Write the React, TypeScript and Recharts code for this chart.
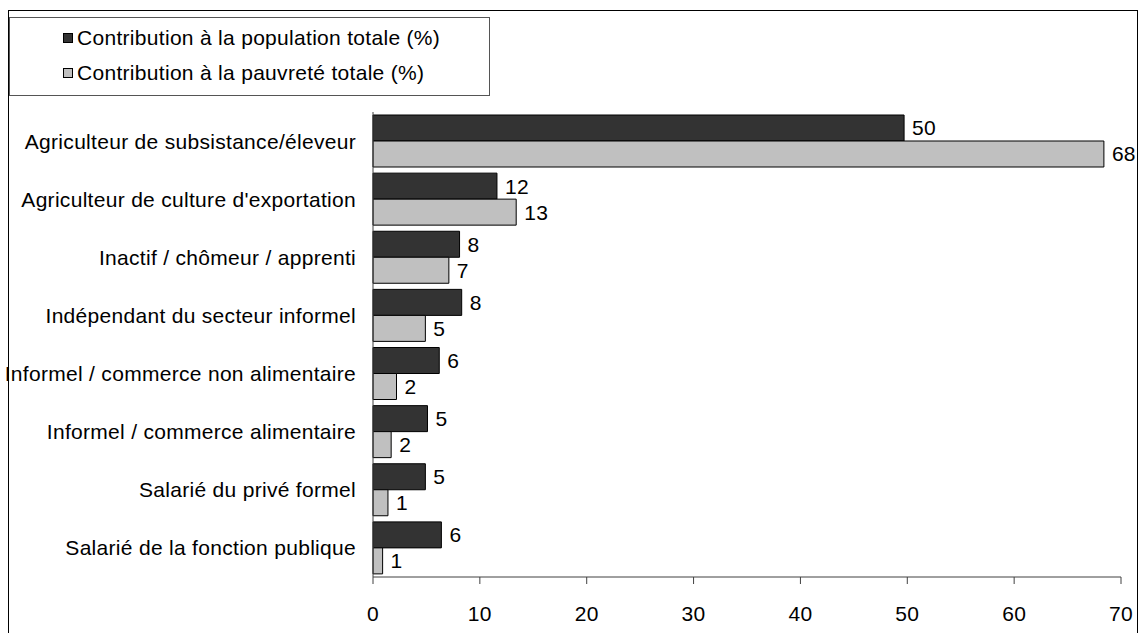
import { Bar, BarChart, LabelList, Legend, XAxis, YAxis } from "recharts";

const categories = [
  "Agriculteur de subsistance/éleveur",
  "Agriculteur de culture d'exportation",
  "Inactif / chômeur / apprenti",
  "Indépendant du secteur informel ",
  "Informel / commerce non alimentaire",
  "Informel / commerce alimentaire",
  "Salarié du privé formel",
  "Salarié de la fonction publique",
];

// values; the printed labels are rounded
const populationShare = [49.7, 11.6, 8.1, 8.3, 6.2, 5.1, 4.9, 6.4];
const povertyShare = [68.4, 13.4, 7.1, 4.9, 2.2, 1.7, 1.4, 0.9];

const xTicks = [0, 10, 20, 30, 40, 50, 60, 70];

const series = [
  { key: "pop", name: "Contribution à la population totale (%)", color: "#333333" },
  { key: "pauv", name: "Contribution à la pauvreté totale (%)", color: "#c0c0c0" },
];

const data = categories.map((name, i) => ({
  name,
  pop: populationShare[i],
  pauv: povertyShare[i],
}));

const AXIS = "#404040";
const FONT = 21;

function LegendBox() {
  // drawn in series order; recharts reverses the payload for vertical charts
  return (
    <div
      style={{
        position: "relative",
        width: 481,
        height: 79,
        boxSizing: "border-box",
        border: "1px solid #555",
        background: "#fff",
      }}
    >
      {series.map((s, i) => (
        <div
          key={s.key}
          style={{
            position: "absolute",
            left: 53,
            top: 7 + i * 35,
            height: 26,
            display: "flex",
            alignItems: "center",
            fontSize: FONT,
            color: "#000",
            whiteSpace: "nowrap",
          }}
        >
          <span
            style={{
              display: "inline-block",
              width: 10,
              height: 10,
              boxSizing: "border-box",
              border: "1px solid #000",
              background: s.color,
              marginRight: 4,
            }}
          />
          {s.name}
        </div>
      ))}
    </div>
  );
}

export default function App() {
  return (
    <div
      style={{
        position: "absolute",
        left: 0,
        top: 0,
        width: 1139,
        height: 633,
        overflow: "hidden",
        background: "#fff",
        fontFamily: "'Liberation Sans', Arial, sans-serif",
        letterSpacing: "0.3px",
      }}
    >
      <div
        style={{
          position: "absolute",
          left: 8,
          top: 10,
          width: 1130,
          height: 640,
          boxSizing: "border-box",
          border: "1.5px solid #000",
        }}
      />
      <BarChart
        width={1139}
        height={633}
        data={data}
        layout="vertical"
        margin={{ top: 112, right: 18, bottom: 0, left: 0 }}
        barCategoryGap={3}
        barGap={0}
        style={{ position: "absolute", left: 0, top: 0 }}
      >
        <XAxis
          type="number"
          domain={[0, 70]}
          ticks={xTicks}
          interval={0}
          height={56}
          stroke={AXIS}
          tickSize={7}
          tickMargin={22}
          tick={{ fontSize: FONT, fill: "#000" }}
        />
        <YAxis
          type="category"
          dataKey="name"
          width={373}
          stroke={AXIS}
          tickLine={false}
          tickSize={0}
          tickMargin={17}
          interval={0}
          tick={{ fontSize: FONT, fill: "#000" }}
        />
        <Legend
          layout="vertical"
          align="center"
          verticalAlign="middle"
          wrapperStyle={{ left: 9, top: 17, width: 481, height: 79 }}
          content={() => <LegendBox />}
        />
        {series.map((s) => (
          <Bar
            key={s.key}
            dataKey={s.key}
            name={s.name}
            fill={s.color}
            stroke="#000"
            strokeWidth={1}
            isAnimationActive={false}
          >
            <LabelList
              dataKey={s.key}
              position="right"
              offset={8}
              formatter={(v: any) => Math.round(Number(v))}
              style={{ fontSize: FONT, fill: "#000" }}
            />
          </Bar>
        ))}
      </BarChart>
    </div>
  );
}
